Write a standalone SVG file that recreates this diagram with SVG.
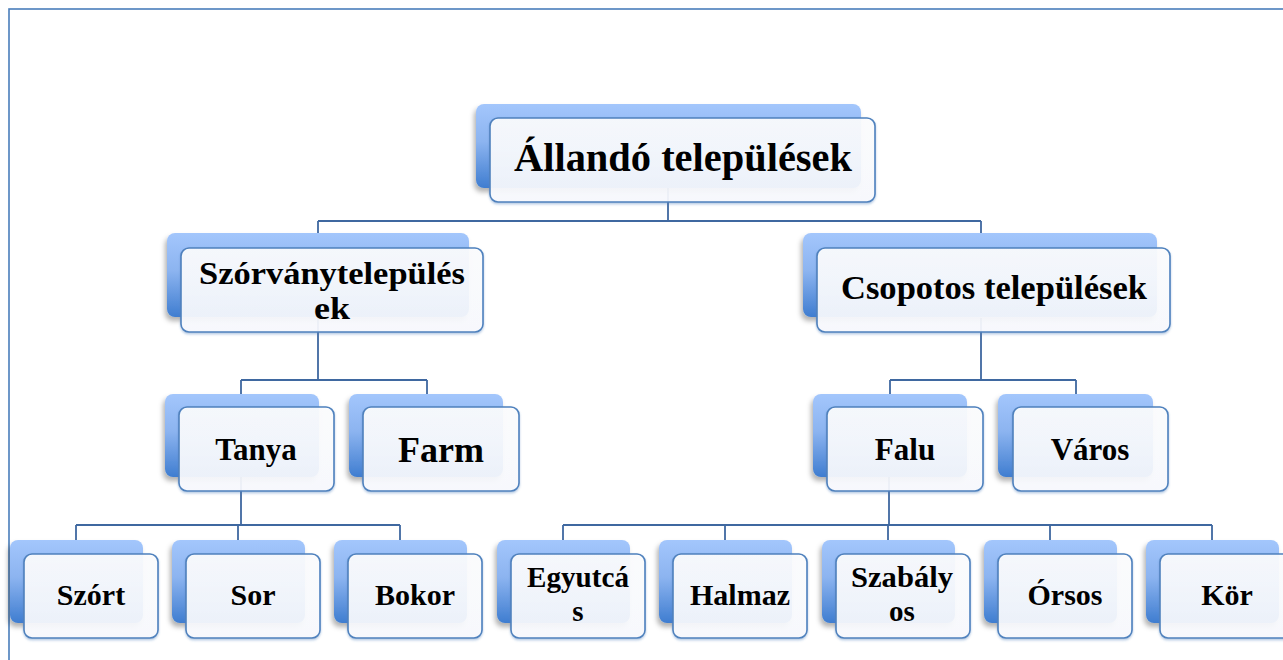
<svg xmlns="http://www.w3.org/2000/svg" width="1283" height="660" viewBox="0 0 1283 660">
<defs>
<linearGradient id="gBack" x1="0" y1="0" x2="0" y2="1">
<stop offset="0" stop-color="#a3c6fc"/>
<stop offset="0.45" stop-color="#8cb4f0"/>
<stop offset="1" stop-color="#3f7dd0"/>
</linearGradient>
<linearGradient id="gFront" x1="0" y1="0" x2="0" y2="1">
<stop offset="0" stop-color="#ffffff" stop-opacity="0.9"/>
<stop offset="1" stop-color="#fbfcff" stop-opacity="0.9"/>
</linearGradient>
<filter id="sh" x="-10%" y="-10%" width="125%" height="135%">
<feDropShadow dx="-2" dy="4" stdDeviation="2.5" flood-color="#000" flood-opacity="0.3"/>
</filter>
<filter id="sh2" x="-10%" y="-10%" width="125%" height="135%">
<feDropShadow dx="0" dy="1.5" stdDeviation="0.8" flood-color="#4f81bd" flood-opacity="0.45"/>
</filter>
</defs>
<style>
.back{fill:url(#gBack);filter:url(#sh)}
.front{fill:url(#gFront);stroke:#4f81bd;stroke-width:1.6;filter:url(#sh2)}
.conn{fill:none;stroke:#3f68a0;stroke-width:1.8}
text{font-family:"Liberation Serif","Times New Roman",serif;font-weight:bold;fill:#000;text-anchor:middle}
.frame{fill:none;stroke:#4a7ebb;stroke-width:1.6}
</style>
<rect class="frame" x="9" y="9" width="1290" height="670"/>
<g id="connectors">
<path class="conn" d="M668,188 V221 M318,221 H981 M318,221 V233 M981,221 V234"/>
<path class="conn" d="M318,317 V380 M241,380 H427 M241,380 V394 M427,380 V394"/>
<path class="conn" d="M981,318 V380 M890,380 H1076 M890,380 V394 M1076,380 V394"/>
<path class="conn" d="M241,477 V525 M76,525 H400 M76,525 V540 M238,525 V540 M400,525 V540"/>
<path class="conn" d="M889,477 V525 M563,525 H1212 M563,525 V540 M725,525 V540 M888,525 V540 M1050,525 V540 M1212,525 V540"/>
</g>
<g id="n-allando">
<rect class="back" x="476" y="104" width="385" height="84" rx="8"/>
<rect class="front" x="490" y="118" width="385" height="84" rx="8"/>
<text x="683" y="171" font-size="40" textLength="338" lengthAdjust="spacingAndGlyphs">Állandó települések</text>
</g>
<g id="n-szorvany">
<rect class="back" x="167" y="233" width="302" height="84" rx="8"/>
<rect class="front" x="181" y="248" width="302" height="84" rx="8"/>
<text x="332" y="284" font-size="31" textLength="266" lengthAdjust="spacingAndGlyphs">Szórványtelepülés</text>
<text x="332" y="319" font-size="31" textLength="36" lengthAdjust="spacingAndGlyphs">ek</text>
</g>
<g id="n-csopotos">
<rect class="back" x="803" y="233" width="354" height="84" rx="8"/>
<rect class="front" x="817" y="248" width="353" height="84" rx="8"/>
<text x="994" y="299" font-size="34" textLength="306" lengthAdjust="spacingAndGlyphs">Csopotos települések</text>
</g>
<g id="n-tanya">
<rect class="back" x="165" y="394" width="154" height="83" rx="8"/>
<rect class="front" x="179" y="407" width="155" height="84" rx="8"/>
<text x="256" y="460" font-size="31">Tanya</text>
</g>
<g id="n-farm">
<rect class="back" x="349" y="394" width="154" height="83" rx="8"/>
<rect class="front" x="363" y="407" width="156" height="84" rx="8"/>
<text x="441" y="462" font-size="36">Farm</text>
</g>
<g id="n-falu">
<rect class="back" x="813" y="394" width="154" height="83" rx="8"/>
<rect class="front" x="827" y="407" width="156" height="84" rx="8"/>
<text x="905" y="460" font-size="31">Falu</text>
</g>
<g id="n-varos">
<rect class="back" x="998" y="394" width="155" height="83" rx="8"/>
<rect class="front" x="1013" y="407" width="155" height="84" rx="8"/>
<text x="1090" y="460" font-size="31">Város</text>
</g>
<g id="n-szort">
<rect class="back" x="10" y="540" width="133" height="83" rx="8"/>
<rect class="front" x="24" y="554" width="134" height="84" rx="8"/>
<text x="91" y="605" font-size="30">Szórt</text>
</g>
<g id="n-sor">
<rect class="back" x="172" y="540" width="133" height="83" rx="8"/>
<rect class="front" x="186" y="554" width="134" height="84" rx="8"/>
<text x="253" y="605" font-size="30">Sor</text>
</g>
<g id="n-bokor">
<rect class="back" x="334" y="540" width="133" height="83" rx="8"/>
<rect class="front" x="348" y="554" width="134" height="84" rx="8"/>
<text x="415" y="605" font-size="30">Bokor</text>
</g>
<g id="n-egyutcas">
<rect class="back" x="497" y="540" width="133" height="83" rx="8"/>
<rect class="front" x="511" y="554" width="134" height="84" rx="8"/>
<text x="578" y="587" font-size="29" textLength="102" lengthAdjust="spacingAndGlyphs">Egyutcá</text>
<text x="578" y="621" font-size="29">s</text>
</g>
<g id="n-halmaz">
<rect class="back" x="659" y="540" width="133" height="83" rx="8"/>
<rect class="front" x="673" y="554" width="134" height="84" rx="8"/>
<text x="740" y="605" font-size="30">Halmaz</text>
</g>
<g id="n-szabalyos">
<rect class="back" x="822" y="540" width="133" height="83" rx="8"/>
<rect class="front" x="836" y="554" width="134" height="84" rx="8"/>
<text x="902" y="587" font-size="29" textLength="102" lengthAdjust="spacingAndGlyphs">Szabály</text>
<text x="902" y="621" font-size="29">os</text>
</g>
<g id="n-orsos">
<rect class="back" x="984" y="540" width="133" height="83" rx="8"/>
<rect class="front" x="998" y="554" width="134" height="84" rx="8"/>
<text x="1065" y="605" font-size="30">Órsos</text>
</g>
<g id="n-kor">
<rect class="back" x="1146" y="540" width="133" height="83" rx="8"/>
<rect class="front" x="1160" y="554" width="134" height="84" rx="8"/>
<text x="1227" y="605" font-size="30">Kör</text>
</g>
</svg>
